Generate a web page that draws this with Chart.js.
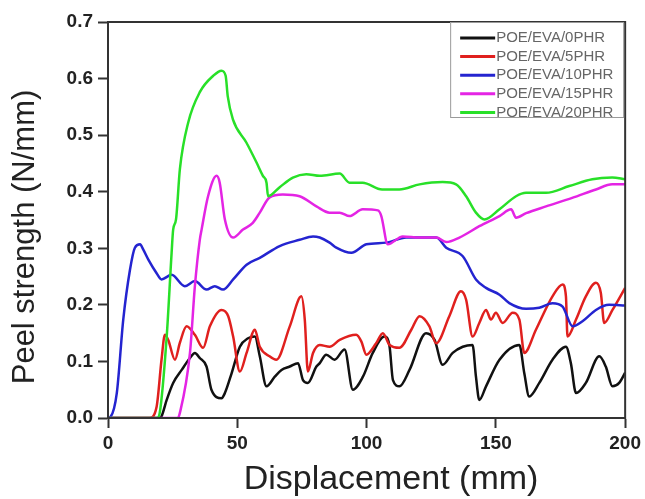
<!DOCTYPE html>
<html>
<head>
<meta charset="utf-8">
<script src="https://cdn.jsdelivr.net/npm/chart.js@4"></script>
<style>
  html, body { margin: 0; padding: 0; background: #fff; }
  #wrap { width: 645px; height: 499px; }
</style>
</head>
<body>
<div id="wrap"><canvas id="peel"></canvas></div>
<script>
var xTicks = [0, 50, 100, 150, 200];
var yTicks = [0, 0.1, 0.2, 0.3, 0.4, 0.5, 0.6, 0.7];

var seriesNames = ['POE/EVA/0PHR', 'POE/EVA/5PHR', 'POE/EVA/10PHR', 'POE/EVA/15PHR', 'POE/EVA/20PHR'];
var seriesColors = ['#111111', '#e0201e', '#2424d0', '#e424e4', '#28e028'];

// displacement (mm) / peel strength (N/mm)
var x0 = [0, 20, 20.7, 22.7, 25.2, 28.5, 31.7, 33.6, 35.5, 38.1, 40, 43.9, 45.2, 47.8, 51, 54.2, 56.8, 58.7, 61.3, 64.5, 67.1, 70.3, 73.5, 75.4, 77.3, 80.6, 81.9, 84.4, 87.6, 91.5, 94.7, 98.6, 102.4, 106.9, 108.9, 110.2, 112.7, 116.6, 123, 126.3, 129.4, 133.3, 137.2, 141, 142.3, 143.6, 146.2, 151.4, 159.1, 161, 162.9, 166.8, 171.9, 177.1, 179, 181, 184.8, 190, 192.5, 195.1, 197.7, 200];
var y0 = [0, 0, 0.003, 0.032, 0.062, 0.085, 0.106, 0.115, 0.106, 0.091, 0.05, 0.035, 0.044, 0.079, 0.126, 0.141, 0.144, 0.109, 0.056, 0.073, 0.085, 0.091, 0.097, 0.067, 0.062, 0.091, 0.097, 0.112, 0.103, 0.121, 0.05, 0.073, 0.115, 0.144, 0.126, 0.067, 0.056, 0.085, 0.15, 0.138, 0.094, 0.115, 0.126, 0.129, 0.073, 0.032, 0.056, 0.103, 0.129, 0.079, 0.038, 0.062, 0.103, 0.126, 0.097, 0.044, 0.062, 0.109, 0.091, 0.056, 0.062, 0.08];

var x5 = [0, 16, 18.8, 20.7, 22, 23.3, 25.9, 27.8, 30.4, 33.6, 36.8, 39.4, 43.9, 46.5, 48.4, 51, 53.6, 56.8, 58.7, 62.5, 65.1, 70.3, 74.8, 76.1, 77.3, 79.3, 81.9, 85.7, 89.6, 96, 98, 99.9, 103.7, 106.3, 108.9, 112.7, 117.3, 120.5, 124.3, 126.9, 132, 136.5, 138.5, 141, 143.6, 146.2, 148.1, 150, 152.6, 156.5, 159.1, 161, 165.5, 171.9, 175.8, 177.1, 177.7, 181, 184.8, 188.7, 190.6, 191.9, 195.1, 200];
var y5 = [0, 0, 0.02, 0.103, 0.147, 0.138, 0.103, 0.133, 0.162, 0.147, 0.124, 0.162, 0.191, 0.18, 0.144, 0.082, 0.115, 0.156, 0.126, 0.109, 0.103, 0.162, 0.215, 0.174, 0.082, 0.115, 0.129, 0.126, 0.138, 0.147, 0.135, 0.112, 0.132, 0.15, 0.129, 0.124, 0.156, 0.18, 0.162, 0.132, 0.18, 0.224, 0.209, 0.144, 0.168, 0.191, 0.174, 0.186, 0.168, 0.186, 0.174, 0.115, 0.156, 0.215, 0.236, 0.215, 0.144, 0.174, 0.215, 0.239, 0.221, 0.168, 0.191, 0.23];

var x10 = [0, 1, 3.4, 5.9, 8.5, 10.4, 12.4, 13.6, 15.6, 18.8, 20.7, 24.6, 29.7, 33.6, 38.1, 41.3, 44.5, 48.4, 53.6, 58.7, 66.4, 74.1, 79.3, 81.9, 85.7, 88.3, 94.1, 99.9, 107.6, 115.3, 127, 130.8, 137.2, 142.3, 146.2, 151.4, 155.2, 161.7, 166.8, 171.9, 175.8, 179.7, 183.5, 188.7, 193.8, 200];
var y10 = [0, 0.002, 0.044, 0.174, 0.262, 0.301, 0.307, 0.298, 0.28, 0.256, 0.245, 0.253, 0.233, 0.242, 0.227, 0.233, 0.227, 0.245, 0.271, 0.283, 0.304, 0.315, 0.321, 0.319, 0.31, 0.301, 0.292, 0.307, 0.31, 0.319, 0.319, 0.301, 0.286, 0.245, 0.23, 0.218, 0.203, 0.193, 0.195, 0.203, 0.197, 0.162, 0.171, 0.191, 0.2, 0.199];

var x15 = [0, 27, 27.8, 31.7, 33.6, 35.5, 36.2, 38.7, 42, 43.2, 45.2, 48.4, 52.2, 56, 58.7, 62.5, 67.6, 74.1, 80.6, 85.7, 89.6, 93.4, 98.5, 104.4, 105.7, 108.2, 114, 120.5, 127, 130.8, 135.9, 143.6, 151.4, 155.9, 157.8, 161.7, 169.4, 179.5, 188.7, 195, 200];
var y15 = [0, 0, 0.009, 0.115, 0.233, 0.315, 0.333, 0.392, 0.428, 0.416, 0.351, 0.319, 0.333, 0.345, 0.363, 0.39, 0.395, 0.392, 0.374, 0.363, 0.363, 0.357, 0.369, 0.367, 0.357, 0.307, 0.321, 0.319, 0.319, 0.311, 0.319, 0.339, 0.357, 0.369, 0.354, 0.362, 0.374, 0.389, 0.404, 0.413, 0.413];

var x20 = [0, 19, 20, 22.7, 24.6, 25.2, 26.3, 27.8, 31, 35.5, 40.7, 43.9, 45.5, 46.3, 48.3, 53.5, 57.4, 59.9, 61.3, 61.9, 66.4, 71.5, 76.7, 81.9, 89.6, 93.4, 98.5, 106, 112.7, 120.5, 129.4, 134.6, 138.5, 142.3, 145.6, 151.4, 157.8, 161.7, 169.4, 178.4, 187.3, 195, 200];
var y20 = [0, 0, 0.009, 0.144, 0.292, 0.333, 0.351, 0.44, 0.522, 0.576, 0.605, 0.614, 0.605, 0.569, 0.528, 0.487, 0.452, 0.428, 0.416, 0.392, 0.408, 0.425, 0.431, 0.428, 0.432, 0.416, 0.416, 0.404, 0.404, 0.413, 0.417, 0.413, 0.392, 0.363, 0.351, 0.369, 0.392, 0.398, 0.398, 0.41, 0.422, 0.425, 0.422];

var seriesX = [x0, x5, x10, x15, x20];
var seriesY = [y0, y5, y10, y15, y20];

function pairs(xs, ys) {
  return xs.map(function(x, i) { return {x: x, y: ys[i]}; });
}

var datasets = seriesNames.map(function(name, i) {
  return {
    label: name,
    data: pairs(seriesX[i], seriesY[i]),
    borderColor: seriesColors[i],
    backgroundColor: seriesColors[i],
    borderWidth: 2.5,
    pointRadius: 0,
    tension: 0.15,
    cubicInterpolationMode: 'monotone',
    fill: false,
    // later series drawn on top
    order: seriesNames.length - i
  };
});

var axisColor = '#333333';
var tickFont = {family: 'Arial, "Liberation Sans", sans-serif', size: 19, weight: 'bold'};

// box around the plot, legend and axis titles
var framePlugin = {
  id: 'frame',
  afterDraw: function(chart) {
    var ctx = chart.ctx;
    var a = chart.chartArea;
    ctx.save();
    ctx.strokeStyle = axisColor;
    ctx.lineWidth = 2;
    ctx.strokeRect(a.left, a.top, a.right - a.left, a.bottom - a.top);

    // legend
    var boxW = 173, rowH = 18.6;
    var bx = a.right - boxW - 2, by = a.top;
    ctx.fillStyle = '#ffffff';
    ctx.fillRect(bx, by, boxW, 95);
    ctx.strokeStyle = '#9a9a9a';
    ctx.lineWidth = 1;
    ctx.strokeRect(bx + 0.5, by + 0.5, boxW, 95);
    ctx.font = '15px Arial, "Liberation Sans", sans-serif';
    ctx.textBaseline = 'middle';
    ctx.textAlign = 'left';
    seriesNames.forEach(function(name, i) {
      var ry = by + 16 + i * rowH;
      ctx.strokeStyle = seriesColors[i];
      ctx.lineWidth = 3;
      ctx.beginPath();
      ctx.moveTo(bx + 10, ry);
      ctx.lineTo(bx + 45, ry);
      ctx.stroke();
      ctx.fillStyle = '#666666';
      ctx.fillText(name, bx + 46, ry);
    });

    // axis titles
    ctx.fillStyle = '#222222';
    ctx.textAlign = 'center';
    ctx.textBaseline = 'alphabetic';
    ctx.font = '34px Arial, "Liberation Sans", sans-serif';
    ctx.fillText('Displacement (mm)', 391, 489);
    ctx.translate(34, 237);
    ctx.rotate(-Math.PI / 2);
    ctx.font = '31px Arial, "Liberation Sans", sans-serif';
    ctx.fillText('Peel strength (N/mm)', 0, 0);
    ctx.restore();
  }
};

new Chart(document.getElementById('peel'), {
  type: 'line',
  data: { datasets: datasets },
  options: {
    responsive: true,
    maintainAspectRatio: false,
    animation: false,
    devicePixelRatio: 1,
    layout: { padding: { top: 22, right: 18, left: 0, bottom: 0 } },
    plugins: {
      legend: { display: false },
      tooltip: { enabled: false }
    },
    scales: {
      x: {
        type: 'linear',
        min: 0,
        max: 200,
        afterFit: function(scale) { scale.height = 81; },
        afterBuildTicks: function(scale) {
          scale.ticks = xTicks.map(function(v) { return {value: v}; });
        },
        ticks: {
          color: '#222222',
          font: tickFont,
          padding: 4,
          maxRotation: 0,
          callback: function(v) { return String(v); }
        },
        grid: {
          drawOnChartArea: false,
          drawTicks: true,
          tickLength: 10,
          tickColor: axisColor,
          tickWidth: 2
        },
        border: { display: true, color: axisColor, width: 2 }
      },
      y: {
        type: 'linear',
        min: 0,
        max: 0.7,
        afterFit: function(scale) { scale.width = 108; },
        afterBuildTicks: function(scale) {
          scale.ticks = yTicks.map(function(v) { return {value: v}; });
        },
        ticks: {
          color: '#222222',
          font: tickFont,
          padding: 5,
          callback: function(v) { return Number(v).toFixed(1); }
        },
        grid: {
          drawOnChartArea: false,
          drawTicks: true,
          tickLength: 10,
          tickColor: axisColor,
          tickWidth: 2
        },
        border: { display: true, color: axisColor, width: 2 }
      }
    }
  },
  plugins: [framePlugin]
});
</script>
</body>
</html>
